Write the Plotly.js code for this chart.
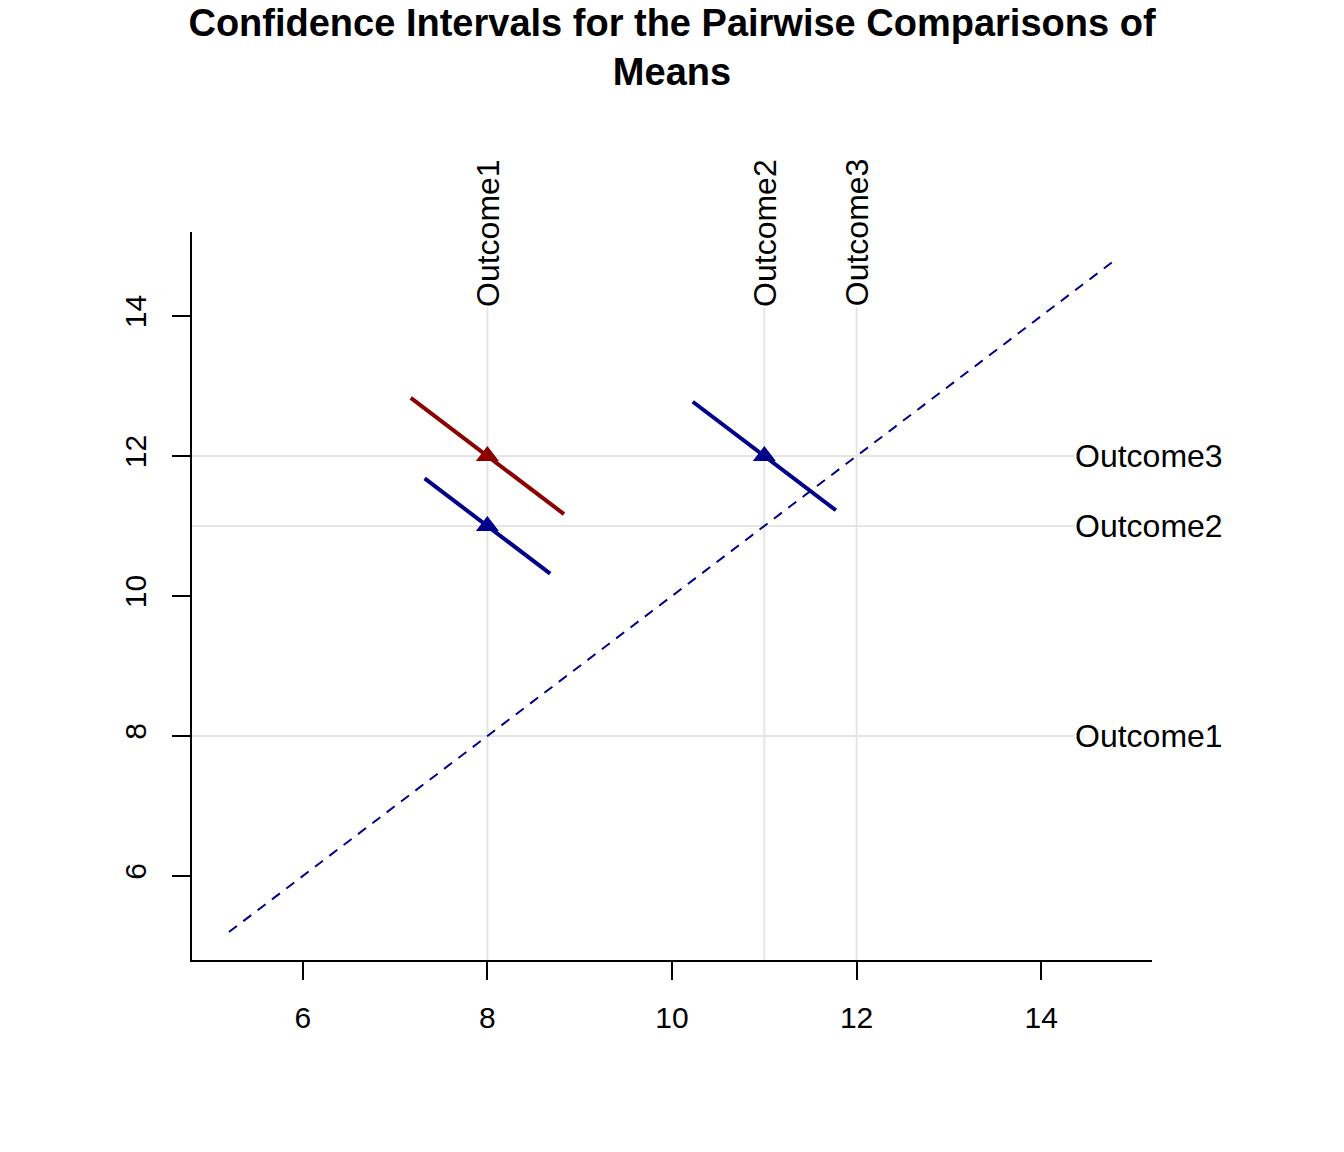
<!DOCTYPE html>
<html>
<head>
<meta charset="utf-8">
<script src="https://cdn.plot.ly/plotly-3.0.1.min.js"></script>
<style>html,body{margin:0;padding:0;background:#fff;}</style>
</head>
<body>
<div id="chart" style="width:1344px;height:1152px;"></div>
<script>
// ---- data ----
var groupNames = ['Outcome1', 'Outcome2', 'Outcome3'];
var groupMeans = [8, 11, 12];

var compNames  = ['Outcome3-Outcome1', 'Outcome2-Outcome1', 'Outcome3-Outcome2'];
var compLowIdx = [0, 0, 1];   // index of lower-mean group (x)
var compHighIdx = [2, 1, 2];  // index of higher-mean group (y)
var compLower  = [2.34, 1.64, -0.55];
var compUpper  = [5.66, 4.36, 2.55];
var compColors = ['#8B0000', '#00008B', '#00008B'];

var diagRange = [5.2, 14.8];
var axisRange = [4.8, 15.2];

var titleText = 'Confidence Intervals for the Pairwise Comparisons of<br>Means';
var xTicks = [6, 8, 10, 12, 14];
var yTicks = [6, 8, 10, 12, 14];

// ---- layout constants ----
var TOP_LABEL_Y = 14.12;
var RIGHT_LABEL_X = 14.36;
var FONT = 'Liberation Sans, Arial, sans-serif';

var traces = [];

// diagonal reference line
traces.push({
  x: diagRange, y: diagRange, mode: 'lines', type: 'scatter',
  line: {color: '#00008B', width: 2, dash: '10px,8px'},
  hoverinfo: 'skip', showlegend: false
});

// CI segments and points
for (var i = 0; i < compNames.length; i++) {
  var xc = groupMeans[compLowIdx[i]];
  var yc = groupMeans[compHighIdx[i]];
  var est = yc - xc;
  var dU = (compUpper[i] - est) / 2;
  var dL = (compLower[i] - est) / 2;
  traces.push({
    x: [xc - dU, xc - dL], y: [yc + dU, yc + dL],
    mode: 'lines', type: 'scatter', name: compNames[i],
    line: {color: compColors[i], width: 4},
    showlegend: false
  });
  traces.push({
    x: [xc], y: [yc], mode: 'markers', type: 'scatter', name: compNames[i],
    marker: {symbol: 'triangle-up', size: 20, color: compColors[i], line: {width: 0}},
    showlegend: false
  });
}

var shapes = [];
var annotations = [];
for (var g = 0; g < groupNames.length; g++) {
  shapes.push({type: 'line', xref: 'x', yref: 'y', layer: 'below',
    x0: groupMeans[g], x1: groupMeans[g], y0: axisRange[0], y1: TOP_LABEL_Y,
    line: {color: '#E5E5E5', width: 2}});
  shapes.push({type: 'line', xref: 'x', yref: 'y', layer: 'below',
    x0: axisRange[0], x1: RIGHT_LABEL_X, y0: groupMeans[g], y1: groupMeans[g],
    line: {color: '#E5E5E5', width: 2}});
  annotations.push({x: groupMeans[g], y: TOP_LABEL_Y, xref: 'x', yref: 'y',
    text: groupNames[g], showarrow: false, textangle: -90,
    xanchor: 'center', yanchor: 'bottom', borderpad: 0,
    font: {family: FONT, size: 32, color: '#000'}});
  annotations.push({x: RIGHT_LABEL_X, y: groupMeans[g], xref: 'x', yref: 'y',
    text: groupNames[g], showarrow: false,
    xanchor: 'left', yanchor: 'middle', borderpad: 0,
    font: {family: FONT, size: 32, color: '#000'}});
}

var layout = {
  width: 1344, height: 1152,
  margin: {l: 192, r: 192, t: 232, b: 192, pad: 0},
  paper_bgcolor: '#fff', plot_bgcolor: '#fff',
  font: {family: FONT, color: '#000'},
  title: {text: '<b>' + titleText + '</b>', x: 0.5, xanchor: 'center',
    y: 0.969, yref: 'container', yanchor: 'top',
    font: {family: FONT, size: 38, color: '#000'}},
  xaxis: {range: axisRange, tickvals: xTicks, ticktext: xTicks.map(String),
    showgrid: false, zeroline: false, showline: true, linecolor: '#000', linewidth: 2,
    ticks: 'outside', ticklen: 18, tickwidth: 2, tickcolor: '#000',
    ticklabelstandoff: 12,
    tickfont: {family: FONT, size: 30, color: '#000'}},
  yaxis: {range: axisRange, tickvals: yTicks, ticktext: yTicks.map(String),
    showgrid: false, zeroline: false, showline: true, linecolor: '#000', linewidth: 2,
    ticks: 'outside', ticklen: 18, tickwidth: 2, tickcolor: '#000',
    tickangle: -90, ticklabelstandoff: 14,
    tickfont: {family: FONT, size: 30, color: '#000'}},
  shapes: shapes,
  annotations: annotations,
  showlegend: false
};

Plotly.newPlot('chart', traces, layout, {displayModeBar: false, staticPlot: true});
</script>
</body>
</html>
